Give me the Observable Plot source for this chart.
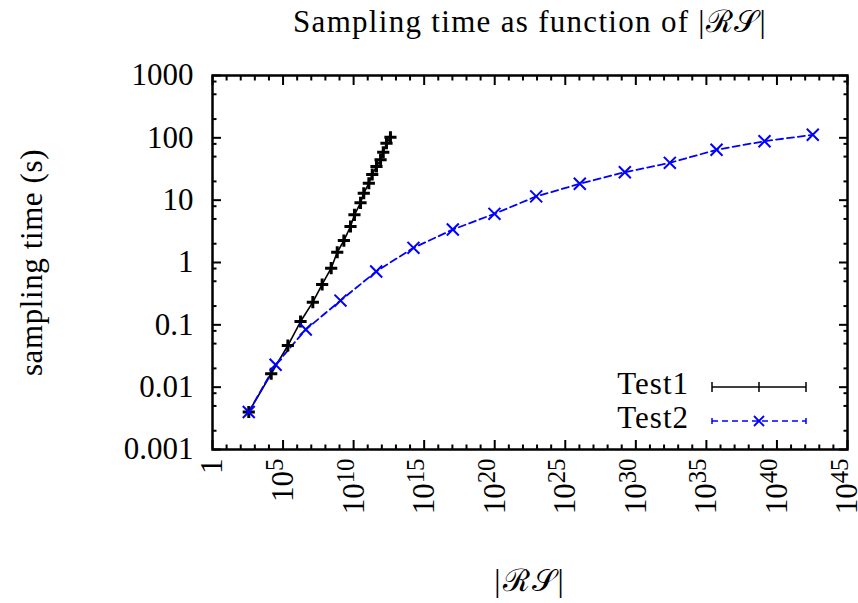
<!DOCTYPE html>
<html><head><meta charset="utf-8">
<script src="https://cdn.jsdelivr.net/npm/d3@7"></script>
<script src="https://cdn.jsdelivr.net/npm/@observablehq/plot@0.6"></script>
<style>
html,body{margin:0;padding:0;background:#fff;}
#chart{width:858px;height:603px;}
</style></head><body><div id="chart"></div>
<script>
// ---- data ----
const seriesNames = ["Test1", "Test2"];
const seriesColors = ["#000000", "#0000ff"];
const test1Log10RS = [2.57, 4.16, 5.34, 6.24, 7.11, 7.77, 8.41, 8.84, 9.31, 9.78, 10.06, 10.49, 10.72, 11.08, 11.32, 11.62, 11.91, 12.10, 12.33, 12.61];
const test1Time    = [0.0040, 0.0164, 0.0466, 0.113, 0.231, 0.444, 0.81, 1.46, 2.25, 3.78, 5.82, 9.07, 12.9, 18.7, 25.8, 34.7, 44.4, 58.8, 82, 102];
const test2Log10RS = [2.57, 4.47, 6.61, 9.07, 11.60, 14.24, 17.03, 19.98, 22.94, 26.03, 29.22, 32.41, 35.72, 39.12, 42.54];
const test2Time    = [0.0040, 0.0229, 0.0841, 0.245, 0.717, 1.72, 3.38, 6.04, 11.5, 18.3, 28.1, 39.7, 64.3, 88.3, 111.9];
const xMajorExponents = [0, 5, 10, 15, 20, 25, 30, 35, 40, 45];
const yTickValues = [0.001, 0.01, 0.1, 1, 10, 100, 1000];
const yTickLabels = ["0.001", "0.01", "0.1", "1", "10", "100", "1000"];
const yMinorMantissas = [2, 5, 8];
const titleText = "Sampling time as function of |ℛ𝒮|";
const xLabelText = "|ℛ𝒮|";
const yLabelText = "sampling time (s)";

// ---- derived tables ----
const rows = [
  ...test1Log10RS.map((e, i) => ({series: seriesNames[0], rs: Math.pow(10, e), t: test1Time[i]})),
  ...test2Log10RS.map((e, i) => ({series: seriesNames[1], rs: Math.pow(10, e), t: test2Time[i]}))
];
const t1 = rows.filter(d => d.series === seriesNames[0]);
const t2 = rows.filter(d => d.series === seriesNames[1]);
const xMajor = xMajorExponents.map(e => Math.pow(10, e));
const xMinor = d3.range(1, 45).filter(e => e % 5 !== 0).map(e => Math.pow(10, e));
const yMinor = d3.range(-3, 3).flatMap(k => yMinorMantissas.map(m => m * Math.pow(10, k)));
const fmtX = v => { const e = Math.round(Math.log10(v)); return e === 0 ? "1" : "10^" + e; };
const fmtY = v => yTickLabels[yTickValues.indexOf(v)];

const FONT = "Liberation Serif";
const FS = 31;

function legend(index, scales, values, dim) {
  const g = d3.create("svg:g").attr("font-family", FONT).attr("font-size", FS).attr("letter-spacing", "1px");
  const xr = dim.width - dim.marginRight;
  const yb = dim.height - dim.marginBottom;
  const rowsY = [yb - 62, yb - 28];
  seriesNames.forEach((name, i) => {
    const y = rowsY[i];
    const c = seriesColors[i];
    g.append("text").attr("x", xr - 158).attr("y", y - 3).attr("dy", "0.32em")
      .attr("text-anchor", "end").attr("fill", "#000").text(name);
    const x0 = xr - 135, x1 = xr - 41, xm = (x0 + x1) / 2;
    const line = g.append("line").attr("x1", x0).attr("x2", x1).attr("y1", y).attr("y2", y)
      .attr("stroke", c).attr("stroke-width", 1.5);
    if (i === 1) line.attr("stroke-dasharray", "6,4");
    const cap = i === 0 ? 5 : 3;
    [x0, x1].forEach(x => g.append("line").attr("x1", x).attr("x2", x).attr("y1", y - cap).attr("y2", y + cap)
      .attr("stroke", c).attr("stroke-width", 1.5));
    if (i === 0) {
      g.append("line").attr("x1", xm).attr("x2", xm).attr("y1", y - 5).attr("y2", y + 5).attr("stroke", c).attr("stroke-width", 1.5);
    } else {
      g.append("path").attr("d", `M${xm-5},${y-5}L${xm+5},${y+5}M${xm-5},${y+5}L${xm+5},${y-5}`).attr("stroke", c).attr("stroke-width", 1.8);
    }
  });
  return g.node();
}

const tickStyle = {stroke: "#000", fill: "none", strokeWidth: 2};
const chart = Plot.plot({
  width: 858,
  height: 603,
  marginLeft: 212,
  marginRight: 11,
  marginTop: 75,
  marginBottom: 154,
  style: {fontFamily: FONT, fontSize: FS + "px", background: "#fff", color: "#000"},
  x: {type: "log", domain: [1, 1e45]},
  y: {type: "log", domain: [0.001, 1000]},
  marks: [
    // ticks (inward, mirrored)
    Plot.axisX({anchor: "bottom", ticks: xMajor, tickSize: -9, ...tickStyle}),
    Plot.axisX({anchor: "top", ticks: xMajor, tickSize: -9, ...tickStyle}),
    Plot.axisX({anchor: "bottom", ticks: xMinor, tickSize: -4.5, ...tickStyle}),
    Plot.axisX({anchor: "top", ticks: xMinor, tickSize: -4.5, ...tickStyle}),
    Plot.axisY({anchor: "left", ticks: yTickValues, tickSize: -9, ...tickStyle}),
    Plot.axisY({anchor: "right", ticks: yTickValues, tickSize: -9, ...tickStyle}),
    Plot.axisY({anchor: "left", ticks: yMinor, tickSize: -4.5, ...tickStyle}),
    Plot.axisY({anchor: "right", ticks: yMinor, tickSize: -4.5, ...tickStyle}),
    // tick labels
    Plot.text(xMajor, {x: d => d, frameAnchor: "bottom", text: fmtX, rotate: -90, textAnchor: "end", lineAnchor: "middle", dy: 9, fill: "#000"}),
    Plot.text(yTickValues, {y: d => d, frameAnchor: "left", text: fmtY, textAnchor: "end", lineAnchor: "middle", dx: -19, fill: "#000"}),
    // axis labels and title
    Plot.text([yLabelText], {frameAnchor: "left", text: d => d, rotate: -90, textAnchor: "middle", lineAnchor: "middle", dx: -180, fill: "#000"}),
    Plot.text([xLabelText], {frameAnchor: "bottom", text: d => d, textAnchor: "middle", lineAnchor: "middle", dy: 132, fill: "#000"}),
    Plot.text([titleText], {frameAnchor: "top", text: d => d, textAnchor: "middle", lineAnchor: "middle", dy: -53, fill: "#000"}),
    // data
    Plot.line(t1, {x: "rs", y: "t", stroke: seriesColors[0], strokeWidth: 1.6}),
    Plot.line(t2, {x: "rs", y: "t", stroke: seriesColors[1], strokeWidth: 1.8, strokeDasharray: "7,4"}),
    Plot.dot(t1, {x: "rs", y: "t", symbol: "plus", r: 4, stroke: seriesColors[0], strokeWidth: 3}),
    Plot.dot(t2, {x: "rs", y: "t", symbol: "times", r: 5.5, stroke: seriesColors[1], strokeWidth: 2}),
    Plot.frame({stroke: "#000", strokeWidth: 2.5}),
    legend
  ]
});
const svg = d3.select(chart);
svg.selectAll("text").each(function() {
  const s = this.textContent;
  const t = d3.select(this);
  const parts = s.split("^");
  if (parts.length === 2) {
    // superscript exponent on x tick labels
    t.text(null);
    t.append("tspan").text(parts[0]);
    t.append("tspan").attr("dy", "-0.4em").attr("font-size", "80%").text(parts[1]);
  } else if (s === titleText) {
    t.style("letter-spacing", "1.3px");
  } else if (s === yLabelText) {
    t.style("letter-spacing", "0.6px");
  } else if (s === xLabelText) {
    t.style("letter-spacing", "2px");
  }
});
document.getElementById("chart").append(chart);
</script></body></html>
